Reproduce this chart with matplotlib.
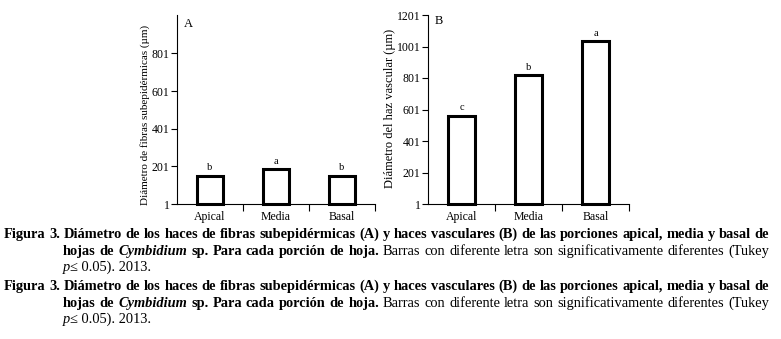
import matplotlib
matplotlib.use("Agg")
import matplotlib.pyplot as plt

W, H = 781, 339

categories = ["Apical", "Media", "Basal"]
fibras_um = [150, 186, 150]
haz_um = [562, 820, 1035]
fibras_letters = ["b", "a", "b"]
haz_letters = ["c", "b", "a"]
fibras_ticks = [1, 201, 401, 601, 801]
haz_ticks = [1, 201, 401, 601, 801, 1001, 1201]

caption = [
    (4, [("Figura 3. Diámetro de los haces de fibras subepidérmicas (A) y haces "
          "vasculares (B) de las porciones apical, media y basal de", "b")], True),
    (63, [("hojas de", "b"), ("Cymbidium", "bi"), ("sp. Para cada porción de hoja.", "b"),
          ("Barras con diferente letra son significativamente diferentes (Tukey", "r")], True),
    (63, [("p", "i"), ("≤ 0.05). 2013.", "r")], False),
]
STYLES = {
    "b": dict(fontweight="bold"),
    "bi": dict(fontweight="bold", fontstyle="italic"),
    "r": dict(),
    "i": dict(fontstyle="italic"),
}

plt.rcParams["font.family"] = ["Liberation Serif", "DejaVu Serif"]

fig = plt.figure(figsize=(W / 100, H / 100), dpi=100)


def px_axes(left, top, right, bottom):
    return fig.add_axes([left / W, 1 - bottom / H, (right - left) / W, (bottom - top) / H])


def draw_panel(ax, values, letters, yticks, ymax, ylabel, label_size, label_x, label_y,
               panel, panel_y):
    x = list(range(len(categories)))
    ax.bar(x, [v - 1 for v in values], bottom=1, width=0.39, color="white",
           edgecolor="black", linewidth=2.2, clip_on=False, zorder=3)
    for i, (v, s) in enumerate(zip(values, letters)):
        ax.annotate(s, (i, v), xytext=(0, 2.5), textcoords="offset points",
                    ha="center", va="bottom", fontsize=7.5)
    ax.set_xlim(-0.5, 2.5)
    ax.set_ylim(1, ymax)
    for side in ("top", "right"):
        ax.spines[side].set_visible(False)
    for side in ("left", "bottom"):
        ax.spines[side].set_linewidth(0.8)
    ax.set_xticks(x)
    ax.set_xticklabels(categories)
    ax.set_xticks([0.5, 1.5, 2.5], minor=True)
    ax.tick_params(axis="x", which="major", length=0, pad=5, labelsize=8.5)
    ax.tick_params(axis="x", which="minor", length=5, width=0.8, direction="out")
    ax.set_yticks(yticks)
    ax.tick_params(axis="y", length=4, width=0.8, pad=1.5, labelsize=8.5)
    ax.text(label_x, label_y, ylabel, rotation=90, ha="center", va="center",
            fontsize=label_size, transform=ax.transAxes)
    ax.text(0.035, panel_y, panel, ha="left", va="center", fontsize=9,
            transform=ax.transAxes)


ax_a = px_axes(177, 15, 375, 204)
draw_panel(ax_a, fibras_um, fibras_letters, fibras_ticks, 1005,
           "Diámetro de fibras subepidérmicas (µm)", 8, -0.162, 0.47, "A", 0.955)

ax_b = px_axes(428, 15, 629, 204)
draw_panel(ax_b, haz_um, haz_letters, haz_ticks, 1201,
           "Diámetro del haz vascular (µm)", 9, -0.189, 0.505, "B", 0.97)

# caption, drawn word by word so the long lines can be justified
renderer = fig.canvas.get_renderer()


def width_of(s, size, style):
    t = fig.text(0, 0, s, fontsize=size, **STYLES[style])
    w = t.get_window_extent(renderer).width
    t.remove()
    return w


def space_of(size, style):
    return width_of("x x", size, style) - width_of("xx", size, style)


RIGHT = 769
first_words = [(w, st) for seg, st in caption[0][1] for w in seg.split()]
nat = sum(width_of(w, 10, st) for w, st in first_words) + \
    (len(first_words) - 1) * space_of(10, "b")
cap_size = 10 * (RIGHT - caption[0][0]) / nat


def draw_caption(baselines):
    for (x0, segments, justify), yb in zip(caption, baselines):
        y = 1 - yb / H
        if justify:
            words = [(w, st) for seg, st in segments for w in seg.split()]
            widths = [width_of(w, cap_size, st) for w, st in words]
            gap = (RIGHT - x0 - sum(widths)) / (len(words) - 1)
            x = x0
            for (w, st), wd in zip(words, widths):
                fig.text(x / W, y, w, fontsize=cap_size, va="baseline", **STYLES[st])
                x += wd + gap
        else:
            x = x0
            for seg, st in segments:
                fig.text(x / W, y, seg, fontsize=cap_size, va="baseline", **STYLES[st])
                x += width_of(seg, cap_size, st)


draw_caption([238, 255, 271])
draw_caption([290, 307, 323])

fig.savefig("out.png", dpi=100)
